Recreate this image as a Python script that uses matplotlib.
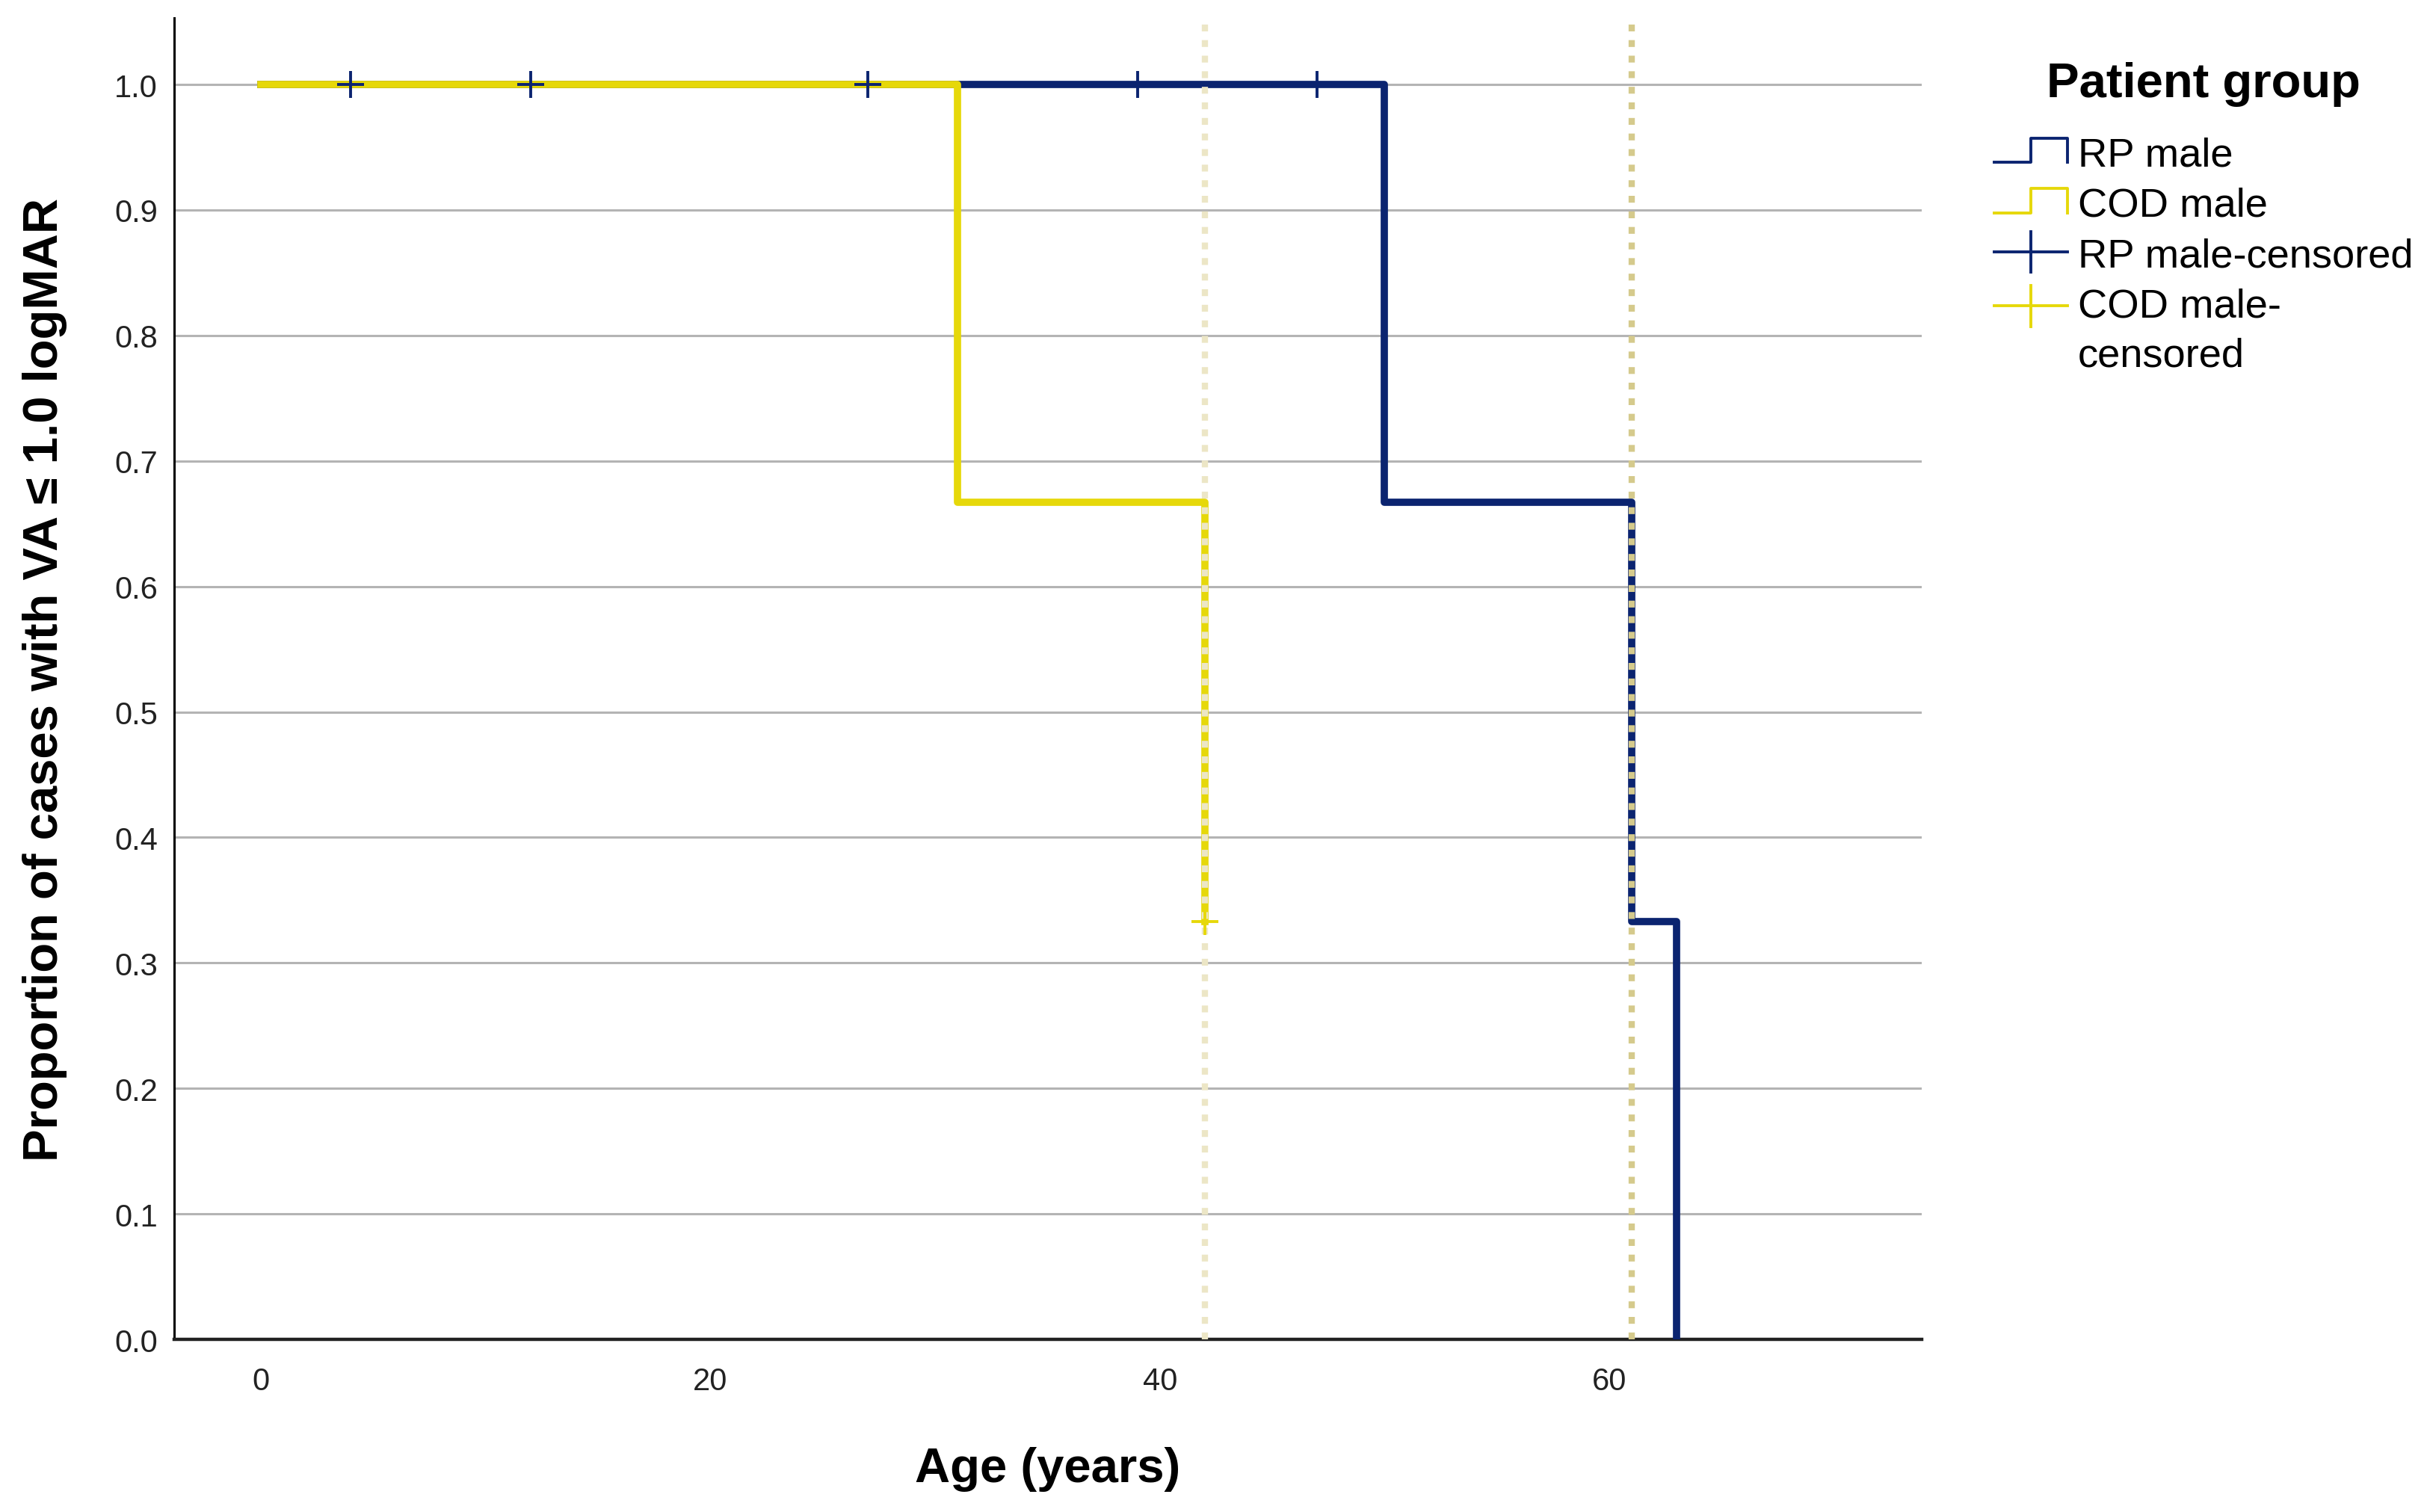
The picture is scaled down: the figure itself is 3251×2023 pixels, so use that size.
import numpy as np
import matplotlib
matplotlib.use('Agg')
import matplotlib.pyplot as plt
from matplotlib.lines import Line2D
from matplotlib.legend_handler import HandlerBase

plt.rcParams['font.family'] = ['Liberation Sans', 'DejaVu Sans']

# Kaplan-Meier steps
rp_time = [0, 50, 61, 63]
rp_surv = [1.0, 0.667, 0.333, 0.0]
rp_cens_time = [4, 12, 27, 39, 47]
rp_cens_surv = [1.0, 1.0, 1.0, 1.0, 1.0]

cod_time = [0, 31, 42]
cod_surv = [1.0, 0.667, 0.333]
cod_cens_time = [42]
cod_cens_surv = [0.333]

median_lines = [42, 61]
median_colors = ['#ece6c6', '#d5ca8c']

yticks = [0.0, 0.1, 0.2, 0.3, 0.4, 0.5, 0.6, 0.7, 0.8, 0.9, 1.0]
xticks = [0, 20, 40, 60]

blue = '#0b2470'
yellow = '#e6d80a'


class StepHandler(HandlerBase):
    def create_artists(self, legend, orig_handle, xdescent, ydescent, width, height, fontsize, trans):
        x0 = -xdescent
        lo = -ydescent + 0.1 * height
        hi = -ydescent + 0.95 * height
        xs = [x0, x0 + 0.5 * width, x0 + 0.5 * width, x0 + width, x0 + width]
        ys = [lo, lo, hi, hi, lo]
        line = Line2D(xs, ys, color=orig_handle.get_color(), lw=orig_handle.get_linewidth())
        line.set_transform(trans)
        return [line]


class CensorHandler(HandlerBase):
    def __init__(self, dy=0):
        super().__init__()
        self.dy = dy

    def create_artists(self, legend, orig_handle, xdescent, ydescent, width, height, fontsize, trans):
        x0 = -xdescent
        ym = -ydescent + 0.5 * height + self.dy
        c = orig_handle.get_color()
        lw = orig_handle.get_linewidth()
        hline = Line2D([x0, x0 + width], [ym, ym], color=c, lw=lw)
        vline = Line2D([x0 + 0.5 * width] * 2, [ym - 0.5 * fontsize, ym + 0.5 * fontsize], color=c, lw=lw)
        hline.set_transform(trans)
        vline.set_transform(trans)
        return [hline, vline]


fig = plt.figure(figsize=(16.255, 10.12), dpi=200)
ax = fig.add_axes([0.0717, 0.1141, 0.7191, 0.8735])

for y in yticks:
    ax.axhline(y, color='#b4b4b4', lw=1.1, zorder=1)

ax.step(rp_time, rp_surv, where='post', color=blue, lw=3.5, zorder=3)
ax.step(cod_time, cod_surv, where='post', color=yellow, lw=3.5, zorder=4)

for x, c in zip(median_lines, median_colors):
    ax.axvline(x, color=c, lw=3.0, ls=(0, (1.1, 1.4)), zorder=5)

ax.plot(rp_cens_time, rp_cens_surv, ls='none', marker='+', color=blue,
        markersize=13, markeredgewidth=1.4, zorder=6)
ax.plot(cod_cens_time, cod_cens_surv, ls='none', marker='+', color=yellow,
        markersize=13, markeredgewidth=1.4, zorder=6)

ax.set_xlim(-3.86, 73.9)
ax.set_ylim(0, 1.053)
ax.set_xticks(xticks)
ax.set_yticks(yticks)
ax.set_yticklabels(['%.1f' % v for v in yticks])
ax.tick_params(axis='both', length=0, labelsize=15, colors='#222222')
ax.tick_params(axis='y', pad=8)
ax.tick_params(axis='x', pad=13)

ax.spines['top'].set_visible(False)
ax.spines['right'].set_visible(False)
ax.spines['left'].set_linewidth(1.1)
ax.spines['bottom'].set_linewidth(1.6)
ax.spines['bottom'].set_color('#222222')

ax.set_xlabel('Age (years)', fontsize=23.5, fontweight='bold')
ax.set_ylabel('Proportion of cases with VA \u2264 1.0 logMAR', fontsize=23.5, fontweight='bold')
ax.xaxis.set_label_coords(0.5, -0.081)
ax.yaxis.set_label_coords(-0.061, 0.5)

h_rp = Line2D([], [], color=blue, lw=1.4)
h_cod = Line2D([], [], color=yellow, lw=1.4)
h_rp_c = Line2D([], [], color=blue, lw=1.4)
h_cod_c = Line2D([], [], color=yellow, lw=1.4)

leg = ax.legend([h_rp, h_cod, h_rp_c, h_cod_c],
                ['RP male', 'COD male', 'RP male-censored', 'COD male-\ncensored'],
                handler_map={h_rp: StepHandler(), h_cod: StepHandler(),
                             h_rp_c: CensorHandler(), h_cod_c: CensorHandler(dy=12)},
                loc='upper left', bbox_to_anchor=(0.8207, 0.959), bbox_transform=fig.transFigure,
                frameon=False, borderpad=0, borderaxespad=0, fontsize=19.6,
                handlelength=1.8, handletextpad=0.25, labelspacing=0.32,
                title='Patient group', title_fontproperties={'weight': 'bold', 'size': 23.5})
leg._legend_box.sep = 14.5
for t in leg.get_texts():
    t.set_linespacing(1.4)

fig.savefig('out.png', dpi=200)
